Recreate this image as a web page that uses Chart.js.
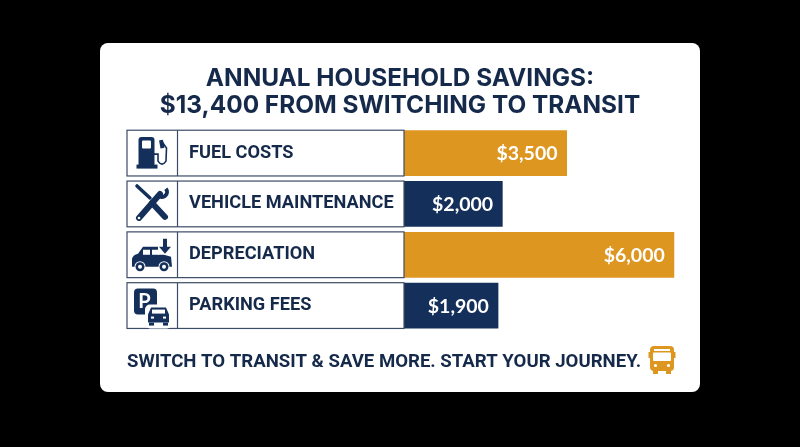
<!DOCTYPE html>
<html>
<head>
<meta charset="utf-8">
<style>
  html, body { margin: 0; padding: 0; background: #000; }
  canvas { display: block; }
</style>
<script src="https://cdn.jsdelivr.net/npm/chart.js@4"></script>
</head>
<body>
<canvas id="savingsChart" width="800" height="447"></canvas>
<script>
var categories = ["FUEL COSTS", "VEHICLE MAINTENANCE", "DEPRECIATION", "PARKING FEES"];
var savings = [3500, 2000, 6000, 1900];
var valueLabels = ["$3,500", "$2,000", "$6,000", "$1,900"];
var titleLines = ["ANNUAL HOUSEHOLD SAVINGS:", "$13,400 FROM SWITCHING TO TRANSIT"];
var footerText = "SWITCH TO TRANSIT & SAVE MORE. START YOUR JOURNEY.";

var NAVY = "#14305a";
var GOLD = "#dd961f";
var INK = "#15294a";
var barColors = [GOLD, NAVY, GOLD, NAVY];

function rr(ctx, x, y, w, h, r) {
    ctx.beginPath();
    ctx.roundRect(x, y, w, h, r);
    ctx.fill();
}

function drawPump(ctx, cy) {
    ctx.fillStyle = NAVY;
    rr(ctx, 138.5, cy - 16, 16, 29, [3, 3, 0, 0]);
    ctx.fillRect(136.5, cy + 11.5, 21, 4);
    ctx.fillStyle = "#fff";
    rr(ctx, 142, cy - 12.5, 9, 8, 1);
    ctx.strokeStyle = NAVY;
    ctx.lineWidth = 1.6;
    ctx.beginPath();
    ctx.moveTo(154, cy + 1);
    ctx.lineTo(158, cy + 1);
    ctx.lineTo(158, cy + 8);
    ctx.quadraticCurveTo(162, cy + 14, 166, cy + 8);
    ctx.lineTo(166.5, cy - 5);
    ctx.lineTo(161, cy - 13);
    ctx.stroke();
    ctx.lineWidth = 4;
    ctx.beginPath();
    ctx.moveTo(162.5, cy - 5);
    ctx.lineTo(161, cy - 13);
    ctx.stroke();
}

function drawTools(ctx, cy) {
    ctx.strokeStyle = NAVY;
    ctx.lineCap = "round";
    ctx.lineWidth = 3.5;
    ctx.beginPath();
    ctx.moveTo(137, cy - 18);
    ctx.lineTo(150, cy - 6);
    ctx.stroke();
    ctx.lineWidth = 6;
    ctx.beginPath();
    ctx.moveTo(152, cy - 1);
    ctx.lineTo(165, cy + 13);
    ctx.stroke();
    ctx.beginPath();
    ctx.moveTo(139, cy + 14);
    ctx.lineTo(160, cy - 10);
    ctx.stroke();
    ctx.lineWidth = 4;
    ctx.lineCap = "butt";
    ctx.beginPath();
    ctx.arc(162, cy - 12, 5, -0.7, 2.6);
    ctx.stroke();
    ctx.fillStyle = "#fff";
    ctx.beginPath();
    ctx.arc(139, cy + 14, 1.3, 0, Math.PI * 2);
    ctx.fill();
}

function drawCar(ctx, cx, cy, s) {
    ctx.fillStyle = NAVY;
    ctx.beginPath();
    ctx.moveTo(cx - 20 * s, cy + 9 * s);
    ctx.lineTo(cx - 20 * s, cy + 1 * s);
    ctx.quadraticCurveTo(cx - 19 * s, cy - 3 * s, cx - 14 * s, cy - 4 * s);
    ctx.lineTo(cx - 9 * s, cy - 11 * s);
    ctx.lineTo(cx + 7 * s, cy - 11 * s);
    ctx.lineTo(cx + 12 * s, cy - 3 * s);
    ctx.lineTo(cx + 19 * s, cy - 1 * s);
    ctx.lineTo(cx + 20 * s, cy + 9 * s);
    ctx.closePath();
    ctx.fill();
    ctx.fillStyle = "#fff";
    ctx.fillRect(cx - 9 * s, cy - 8 * s, 7 * s, 5 * s);
    ctx.fillRect(cx, cy - 8 * s, 7 * s, 5 * s);
    [-12, 12].forEach(function (dx) {
        ctx.fillStyle = "#fff";
        ctx.beginPath();
        ctx.arc(cx + dx * s, cy + 9 * s, 5.5 * s, 0, Math.PI * 2);
        ctx.fill();
        ctx.fillStyle = NAVY;
        ctx.beginPath();
        ctx.arc(cx + dx * s, cy + 9 * s, 4.5 * s, 0, Math.PI * 2);
        ctx.fill();
        ctx.fillStyle = "#fff";
        ctx.beginPath();
        ctx.arc(cx + dx * s, cy + 9 * s, 2 * s, 0, Math.PI * 2);
        ctx.fill();
    });
}

function drawDepreciation(ctx, cy) {
    drawCar(ctx, 152, cy + 3, 1);
    ctx.fillStyle = "#fff";
    ctx.fillRect(158, cy - 9, 14, 9);
    ctx.fillStyle = NAVY;
    ctx.fillRect(163, cy - 16, 4, 10);
    ctx.beginPath();
    ctx.moveTo(159, cy - 8);
    ctx.lineTo(171, cy - 8);
    ctx.lineTo(165, cy - 1);
    ctx.closePath();
    ctx.fill();
}

function drawParking(ctx, cy) {
    ctx.fillStyle = NAVY;
    rr(ctx, 134, cy - 17, 23, 26, 4);
    ctx.fillStyle = "#fff";
    ctx.font = "bold 20px Lato";
    ctx.textAlign = "center";
    ctx.textBaseline = "middle";
    ctx.fillText("P", 144.5, cy - 4);
    ctx.beginPath();
    ctx.roundRect(145, cy - 1, 27, 24, 5);
    ctx.fill();
    ctx.fillStyle = NAVY;
    ctx.beginPath();
    ctx.moveTo(148, cy + 17);
    ctx.lineTo(148, cy + 9);
    ctx.lineTo(151, cy + 2);
    ctx.lineTo(166, cy + 2);
    ctx.lineTo(169, cy + 9);
    ctx.lineTo(169, cy + 17);
    ctx.closePath();
    ctx.fill();
    ctx.fillRect(149, cy + 17, 5, 3);
    ctx.fillRect(163, cy + 17, 5, 3);
    ctx.fillStyle = "#fff";
    ctx.fillRect(152, cy + 4, 13, 4);
    ctx.fillRect(151, cy + 11, 3, 2);
    ctx.fillRect(163, cy + 11, 3, 2);
}

function drawBus(ctx) {
    ctx.fillStyle = GOLD;
    rr(ctx, 650, 346, 24, 25, 4);
    ctx.fillRect(653, 370, 5, 4);
    ctx.fillRect(666, 370, 5, 4);
    ctx.fillRect(648.5, 352, 2, 6);
    ctx.fillRect(673.5, 352, 2, 6);
    ctx.fillStyle = "#fff";
    ctx.fillRect(654, 349, 16, 2);
    rr(ctx, 653, 352.5, 18, 8.5, 1);
    ctx.beginPath();
    ctx.arc(655.5, 365.5, 1.6, 0, Math.PI * 2);
    ctx.arc(668.5, 365.5, 1.6, 0, Math.PI * 2);
    ctx.fill();
}

var rowIcons = [drawPump, drawTools, drawDepreciation, drawParking];

var cardPlugin = {
    id: "card",
    beforeDraw: function (chart) {
        var ctx = chart.ctx;
        ctx.save();
        ctx.fillStyle = "#000";
        ctx.fillRect(0, 0, chart.width, chart.height);
        ctx.fillStyle = "#fff";
        rr(ctx, 100, 43, 600, 349, 8);
        ctx.restore();
    },
    afterDraw: function (chart) {
        var ctx = chart.ctx;
        var meta = chart.getDatasetMeta(0);
        ctx.save();
        meta.data.forEach(function (bar, i) {
            var h = bar.height;
            var top = bar.y - h / 2;
            var left = 127;
            // label frame + icon divider
            ctx.strokeStyle = "#3c4c66";
            ctx.lineWidth = 1.2;
            ctx.strokeRect(left, top, 404 - left, h);
            ctx.beginPath();
            ctx.moveTo(177.5, top);
            ctx.lineTo(177.5, top + h);
            ctx.stroke();

            ctx.save();
            rowIcons[i](ctx, bar.y);
            ctx.restore();

            // value inside the bar end
            ctx.fillStyle = "#fff";
            ctx.font = "bold 19.5px Lato";
            ctx.textAlign = "right";
            ctx.textBaseline = "middle";
            ctx.fillText(valueLabels[i], bar.x - 9.5, bar.y + 1);
        });

        ctx.fillStyle = INK;
        ctx.font = "bold 18.6px Roboto";
        ctx.textAlign = "left";
        ctx.textBaseline = "middle";
        ctx.fillText(footerText, 127, 362);
        drawBus(ctx);
        ctx.restore();
    }
};

new Chart(document.getElementById("savingsChart"), {
    type: "bar",
    plugins: [cardPlugin],
    data: {
        labels: categories,
        datasets: [{
            data: savings,
            base: -300,
            backgroundColor: barColors,
            barPercentage: 0.9,
            categoryPercentage: 1
        }]
    },
    options: {
        indexAxis: "y",
        responsive: false,
        animation: false,
        layout: { padding: { left: 100, right: 100, top: 43, bottom: 116 } },
        plugins: {
            legend: { display: false },
            tooltip: { enabled: false },
            title: {
                display: true,
                text: titleLines,
                color: INK,
                font: { family: "Inter", size: 24.4, weight: "700", lineHeight: 1.1 },
                padding: { top: 22, bottom: 9 }
            }
        },
        scales: {
            x: { display: false, min: -300, max: 6600 },
            y: {
                position: "left",
                grid: { display: false },
                border: { display: false },
                ticks: {
                    crossAlign: "far",
                    color: INK,
                    font: { family: "Roboto", size: 18.2, weight: "700" }
                },
                afterFit: function (scale) { scale.width = 215; }
            },
            // pushes the category labels right, past the icon column
            spacer: {
                axis: "y",
                type: "linear",
                position: "left",
                weight: 1,
                grid: { display: false },
                border: { display: false },
                ticks: { display: false },
                afterFit: function (scale) { scale.width = 89; }
            }
        }
    }
});
</script>
</body>
</html>
